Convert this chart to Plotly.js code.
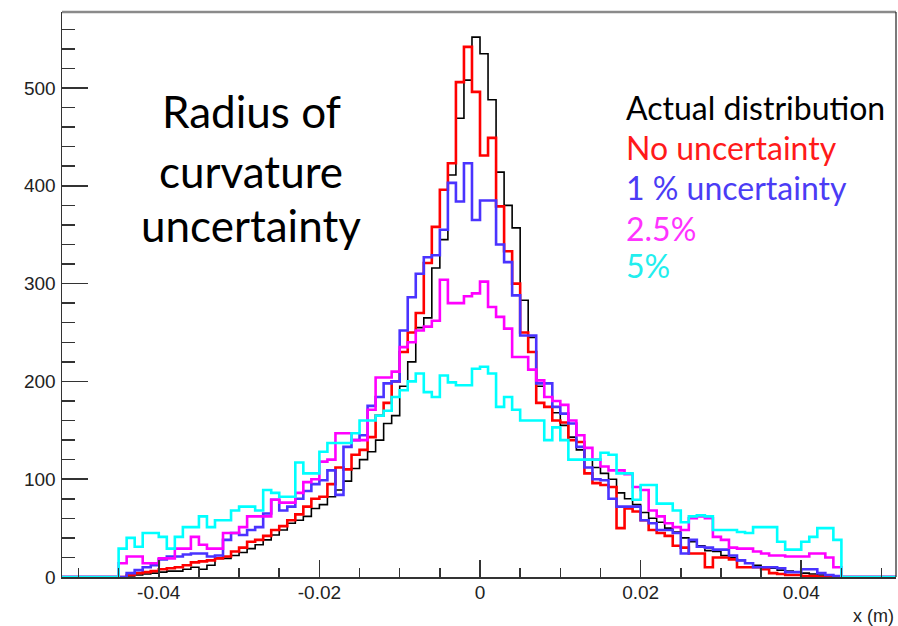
<!DOCTYPE html>
<html>
<head>
<meta charset="utf-8">
<script src="https://cdn.plot.ly/plotly-3.0.1.min.js"></script>
<style>
  html, body { margin: 0; padding: 0; background: #fff; }
  #chart { width: 898px; height: 626px; }
</style>
</head>
<body>
<div id="chart"></div>
<script>
// Histogram bins: 90 bins of width 0.001 m starting at -0.045 m
const binStart = -0.045;
const binWidth = 0.001;

// Series values (counts per bin)
const actualDistribution = [
  0,1,2,3,4,5,6,6,8,10,
  8,12,19,19,22,25,29,33,38,43,
  48,55,58,62,70,74,82,89,98,111,
  120,128,140,157,165,195,220,255,265,316,
  345,411,469,508,552,535,488,414,380,357,
  283,245,195,184,168,155,143,130,120,112,
  106,100,86,80,74,66,60,56,50,46,
  40,36,32,27,26,22,20,17,14,12,
  10,9,7,6,5,4,3,2,2,1
];
const noUncertainty = [
  0,2,4,5,6,8,9,10,12,15,
  16,17,19,21,26,30,36,38,42,48,
  52,58,64,72,80,82,95,112,110,125,
  130,143,165,178,200,230,250,270,321,358,
  396,423,506,542,496,431,449,379,333,300,
  250,230,178,174,160,158,140,138,106,96,
  94,92,50,70,67,58,48,45,42,32,
  30,24,24,10,20,20,18,10,10,10,
  8,4,3,2,2,1,1,0,0,0
];
const onePercent = [
  0,4,7,10,12,18,21,21,23,24,
  24,21,22,38,45,43,48,51,65,79,
  68,72,80,88,95,99,109,84,133,140,
  145,175,184,198,200,252,286,310,327,329,
  355,403,384,423,365,385,385,340,322,288,
  247,247,198,198,174,167,157,133,112,100,
  99,80,72,72,72,58,55,48,48,45,
  24,38,31,30,28,28,22,17,14,10,
  10,10,9,5,5,8,8,4,2,1
];
const twoHalfPercent = [
  14,21,21,14,14,19,19,29,29,41,
  33,29,29,45,45,51,62,62,62,79,
  76,76,86,97,100,118,120,147,147,140,
  140,171,204,204,210,235,240,252,256,262,
  304,280,280,287,290,302,276,266,254,225,
  225,212,201,184,180,176,160,145,132,120,
  113,109,109,105,92,89,68,62,55,51,
  48,60,62,60,41,38,30,29,29,26,
  24,22,22,21,21,21,24,24,20,10
];
const fivePercent = [
  29,40,31,45,45,41,29,41,51,51,
  62,51,58,58,68,72,72,68,89,86,
  82,82,117,106,106,128,137,137,137,147,
  160,160,165,170,184,191,200,208,189,184,
  206,199,196,196,213,215,208,174,184,171,
  160,160,160,140,153,140,120,120,120,120,
  127,125,106,106,79,94,94,75,75,68,
  56,62,63,62,48,48,48,46,45,51,
  51,51,36,28,28,36,41,50,50,38
];

const seriesNames = ['Actual distribution', 'No uncertainty', '1 % uncertainty', '2.5%', '5%'];
const seriesColors = ['#000000', '#ff0000', '#4a33ff', '#ff00ff', '#00ffff'];
const seriesWidths = [1.6, 2.6, 2.6, 2.6, 2.6];
const legendColors = ['#000000', '#ff1a1a', '#4b3cf5', '#ff33ff', '#22eeee'];

const xTickVals = [-0.04, -0.02, 0, 0.02, 0.04];
const xTickText = ['-0.04', '-0.02', '0', '0.02', '0.04'];
const yTickVals = [0, 100, 200, 300, 400, 500];
const yTickText = ['0', '100', '200', '300', '400', '500'];

const titleLines = ['Radius of', 'curvature', 'uncertainty'];

// empty bins on both sides (drawn as flat zero line)
const padBins = 8;
function binCenters(n) {
  const out = [];
  for (let i = -padBins; i < n + padBins; i++) out.push(binStart + (i + 0.5) * binWidth);
  return out;
}
function padded(vals) {
  const z = new Array(padBins).fill(0);
  return z.concat(vals, z);
}

const allSeries = [actualDistribution, noUncertainty, onePercent, twoHalfPercent, fivePercent];
const traces = allSeries.map((vals, k) => ({
  type: 'scatter',
  mode: 'lines',
  x: binCenters(vals.length),
  y: padded(vals),
  name: seriesNames[k],
  line: { color: seriesColors[k], width: seriesWidths[k], shape: 'hvh' },
  hoverinfo: 'skip'
}));

// pixel helpers for annotation placement (plot area: x 62..896, y 12..577)
const PL = 62, PR = 896, PT = 12, PB = 577;
const px = v => (v - PL) / (PR - PL);
const py = v => (PB - v) / (PB - PT);

const annotations = [];
const titleY = [111, 171, 225];
titleLines.forEach((t, i) => annotations.push({
  xref: 'paper', yref: 'paper', x: px(251), y: py(titleY[i]),
  xanchor: 'center', yanchor: 'middle', showarrow: false, text: t,
  font: { family: 'Lato, sans-serif', size: 44, color: '#000' }
}));
const legendY = [107.6, 147.6, 187.6, 228, 265.6];
seriesNames.forEach((t, i) => annotations.push({
  xref: 'paper', yref: 'paper', x: px(624), y: py(legendY[i]),
  xanchor: 'left', yanchor: 'middle', showarrow: false, text: t,
  font: { family: 'Lato, sans-serif', size: 32, color: legendColors[i] }
}));
annotations.push({
  xref: 'paper', yref: 'paper', x: 1, y: py(616),
  xanchor: 'right', yanchor: 'middle', showarrow: false, text: 'x (m)',
  font: { family: 'Liberation Sans, Arial, sans-serif', size: 18, color: '#222' }
});

const layout = {
  width: 898, height: 626,
  margin: { l: PL, r: 898 - PR, t: PT, b: 626 - PB },
  paper_bgcolor: '#ffffff', plot_bgcolor: '#ffffff',
  showlegend: false,
  font: { family: 'Liberation Sans, Arial, sans-serif', size: 19, color: '#222' },
  xaxis: {
    range: [-0.05205, 0.0518],
    tickvals: xTickVals, ticktext: xTickText,
    ticks: 'inside', ticklen: 17, tickwidth: 1.5, tickcolor: '#333',
    minor: { dtick: 0.005, tick0: 0, ticks: 'inside', ticklen: 9, tickwidth: 1.5, tickcolor: '#333', showgrid: false },
    showline: true, linecolor: '#333', linewidth: 1.5,
    showgrid: false, zeroline: false,
    ticklabelstandoff: -2,
    tickfont: { family: 'Liberation Sans, Arial, sans-serif', size: 19, color: '#222' }
  },
  yaxis: {
    range: [0, 577.7],
    tickvals: yTickVals, ticktext: yTickText,
    ticks: 'inside', ticklen: 26, tickwidth: 1.5, tickcolor: '#333',
    minor: { dtick: 20, tick0: 0, ticks: 'inside', ticklen: 13, tickwidth: 1.5, tickcolor: '#333', showgrid: false },
    showline: true, linecolor: '#333', linewidth: 1.5,
    showgrid: false, zeroline: false,
    ticklabelstandoff: 1,
    tickfont: { family: 'Liberation Sans, Arial, sans-serif', size: 19, color: '#222' }
  },
  shapes: [
    { type: 'line', xref: 'paper', yref: 'paper', x0: 0, x1: 1, y0: 1, y1: 1, line: { color: '#8a8a8a', width: 2.5 } },
    { type: 'line', xref: 'paper', yref: 'paper', x0: 1, x1: 1, y0: 0, y1: 1, line: { color: '#222', width: 1.2 } }
  ],
  annotations: annotations
};

Plotly.newPlot('chart', traces, layout, { displayModeBar: false, staticPlot: true });
</script>
</body>
</html>
